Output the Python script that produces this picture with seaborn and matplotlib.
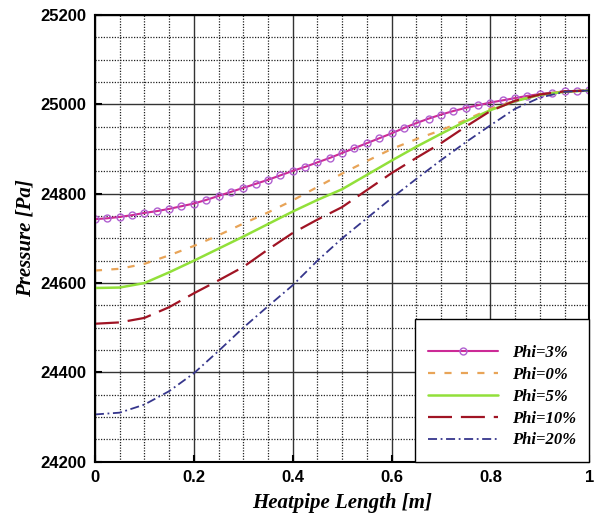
import numpy as np
import pandas as pd
import matplotlib
matplotlib.use("Agg")
import matplotlib.pyplot as plt
from matplotlib.ticker import MultipleLocator
import seaborn as sns

# Heat-pipe pressure profiles for several nanofluid concentrations
x_fine = [0.0, 0.025, 0.05, 0.075, 0.1, 0.125, 0.15, 0.175, 0.2, 0.225, 0.25, 0.275,
          0.3, 0.325, 0.35, 0.375, 0.4, 0.425, 0.45, 0.475, 0.5, 0.525, 0.55, 0.575,
          0.6, 0.625, 0.65, 0.675, 0.7, 0.725, 0.75, 0.775, 0.8, 0.825, 0.85, 0.875,
          0.9, 0.925, 0.95, 0.975, 1.0]
phi_3 = [24743, 24745, 24748, 24752, 24757, 24761, 24766, 24772, 24778, 24786, 24795, 24804,
         24813, 24822, 24831, 24841, 24851, 24860, 24870, 24880, 24891, 24902, 24913, 24924,
         24935, 24947, 24958, 24968, 24977, 24985, 24992, 24998, 25004, 25009, 25014, 25019,
         25023, 25026, 25029, 25030, 25031]

x = [0.0, 0.05, 0.1, 0.15, 0.2, 0.25, 0.3, 0.35, 0.4, 0.45, 0.5,
     0.55, 0.6, 0.65, 0.7, 0.75, 0.8, 0.85, 0.9, 0.95, 1.0]
phi_0 = [24628, 24632, 24643, 24662, 24683, 24707, 24733, 24758, 24785, 24815, 24845,
         24873, 24900, 24922, 24942, 24965, 24990, 25008, 25022, 25029, 25031]
phi_5 = [24589, 24590, 24600, 24624, 24650, 24677, 24704, 24732, 24760, 24786, 24810,
         24842, 24874, 24905, 24934, 24962, 24987, 25007, 25021, 25028, 25031]
phi_10 = [24509, 24512, 24522, 24546, 24577, 24606, 24636, 24675, 24712, 24742, 24770,
          24808, 24846, 24880, 24913, 24950, 24985, 25008, 25022, 25029, 25031]
phi_20 = [24306, 24310, 24328, 24358, 24398, 24448, 24500, 24548, 24595, 24650, 24700,
          24745, 24790, 24833, 24875, 24915, 24953, 24990, 25015, 25028, 25031]

labels = ["Phi=3%", "Phi=0%", "Phi=5%", "Phi=10%", "Phi=20%"]

sns.set_theme(style="white")
plt.rcParams["font.family"] = ["Liberation Sans", "DejaVu Sans"]
plt.rcParams["text.color"] = "black"
plt.rcParams["axes.labelcolor"] = "black"

fig = plt.figure(figsize=(5.97, 5.16), dpi=100)
ax = fig.add_axes([0.159, 0.105, 0.828, 0.866])

ax.xaxis.set_major_locator(MultipleLocator(0.2))
ax.xaxis.set_minor_locator(MultipleLocator(0.05))
ax.yaxis.set_major_locator(MultipleLocator(200))
ax.yaxis.set_minor_locator(MultipleLocator(50))
ax.grid(True, which="major", color="#333333", linewidth=1.0, linestyle="-")
ax.grid(True, which="minor", color="#222222", linewidth=0.9, linestyle=(0, (1, 1.2)))
ax.set_axisbelow(True)

sns.lineplot(x=x_fine, y=phi_3, ax=ax, color="#cc2a96", linewidth=1.5,
             marker="o", markersize=5, markerfacecolor="none",
             markeredgecolor="#b060d0", markeredgewidth=1.0, label=labels[0])
sns.lineplot(x=x, y=phi_0, ax=ax, color="#e8a458", linewidth=1.6,
             label=labels[1]).lines[-1].set_dashes((3.2, 4.2))
sns.lineplot(x=x, y=phi_5, ax=ax, color="#92e03a", linewidth=1.8, label=labels[2])
sns.lineplot(x=x, y=phi_10, ax=ax, color="#a01424", linewidth=1.6,
             label=labels[3]).lines[-1].set_dashes((10.8, 4))
sns.lineplot(x=x, y=phi_20, ax=ax, color="#36368c", linewidth=1.3,
             label=labels[4]).lines[-1].set_dashes((5, 2, 1, 2))

ax.set_xlim(0, 1)
ax.set_ylim(24200, 25200)
ax.xaxis.set_major_formatter(plt.FuncFormatter(lambda v, p: f"{v:g}"))

for s in ax.spines.values():
    s.set_color("black")
    s.set_linewidth(1.5)
ax.tick_params(axis="both", which="major", direction="in", length=5, width=1.5,
               labelsize=12, colors="black", pad=6)
ax.tick_params(axis="both", which="minor", length=0)
ax.tick_params(left=True, bottom=True)
for t in ax.get_xticklabels() + ax.get_yticklabels():
    t.set_fontweight("bold")

label_font = dict(family="Liberation Serif", style="italic", weight="bold", size=15,
                  color="black")
ax.set_xlabel("Heatpipe Length [m]", fontdict=label_font, labelpad=6)
ax.set_ylabel("Pressure [Pa]", fontdict=label_font, labelpad=4)

handles, labs = ax.get_legend_handles_labels()
leg = ax.legend(handles, labs, loc="lower right", frameon=True, fancybox=False,
                edgecolor="black", framealpha=1, handlelength=4.2, numpoints=1,
                borderpad=0.8, labelspacing=0.35, title=" ",
                prop=dict(family="Liberation Serif", style="italic", weight="bold", size=12),
                borderaxespad=0)
leg.get_frame().set_linewidth(1.0)
leg.get_title().set_fontsize(6)

fig.savefig("out.png", dpi=100)
